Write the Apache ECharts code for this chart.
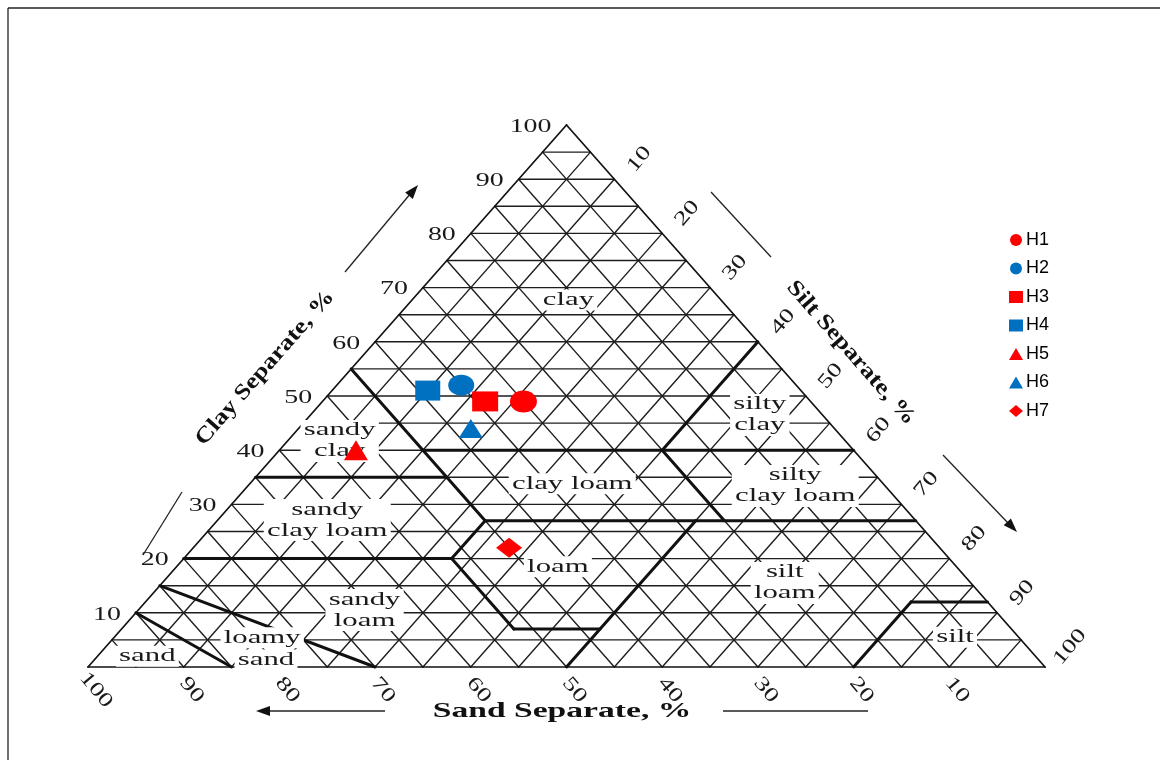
<!DOCTYPE html>
<html>
<head>
<meta charset="utf-8">
<title>Soil texture triangle</title>
<script src="https://cdn.jsdelivr.net/npm/echarts@6/dist/echarts.min.js"></script>
<style>
    html, body { margin: 0; padding: 0; background: #fff; }
    #chart { width: 1160px; height: 760px; }
</style>
</head>
<body>
<div id="chart"></div>
<script>
// 样本点 (sand, silt, clay, %)
const sampleNames = ['H1', 'H2', 'H3', 'H4', 'H5', 'H6', 'H7'];
const sampleSand = [30, 35, 34, 39, 52, 38, 45];
const sampleSilt = [21, 13, 17, 10, 8, 18, 33];
const sampleClay = [49, 52, 49, 51, 40, 44, 22];

// 刻度
const tickValues = [10, 20, 30, 40, 50, 60, 70, 80, 90, 100];
const gridStep = 5;

// 质地分区边界 (sand, silt, clay)
const classBoundaries = [
    [[45, 0, 55], [45, 15, 40], [45, 28, 27], [52, 28, 20], [52, 41, 7], [43, 50, 7]],
    [[65, 0, 35], [45, 20, 35]],
    [[45, 15, 40], [0, 60, 40]],
    [[20, 40, 40], [0, 40, 60]],
    [[20, 40, 40], [20, 53, 27]],
    [[45, 28, 27], [0, 73, 27]],
    [[80, 0, 20], [52, 28, 20]],
    [[23, 50, 27], [50, 50, 0]],
    [[20, 80, 0], [8, 80, 12], [0, 88, 12]],
    [[85, 0, 15], [70, 30, 0]],
    [[90, 0, 10], [85, 15, 0]]
];

// 分区名称
const classNames = ['clay', 'silty\nclay', 'sandy\nclay', 'clay loam', 'silty\nclay loam',
    'sandy\nclay loam', 'loam', 'silt\nloam', 'sandy\nloam', 'loamy', 'sand', 'sand', 'silt'];
const classNameX = [50.2, 70.2, 26.3, 50.6, 73.9, 25.0, 49.1, 72.8, 28.9, 18.2, 6.2, 18.6, 90.6];
const classNameY = [67.7, 46.5, 41.7, 33.8, 33.4, 27.1, 18.5, 15.5, 10.5, 5.4, 2.0, 1.3, 5.5];

// 三元坐标 -> 直角坐标
function toXY(sand, silt, clay) {
    return [silt + clay / 2, clay];
}

function gridSegments() {
    const segs = [];
    for (let k = gridStep; k < 100; k += gridStep) {
        segs.push(toXY(100 - k, 0, k).concat(toXY(0, 100 - k, k)));
        segs.push(toXY(k, 0, 100 - k).concat(toXY(k, 100 - k, 0)));
        segs.push(toXY(0, k, 100 - k).concat(toXY(100 - k, k, 0)));
    }
    return segs;
}

function edgeSegments() {
    return [
        toXY(100, 0, 0).concat(toXY(0, 100, 0)),
        toXY(100, 0, 0).concat(toXY(0, 0, 100)),
        toXY(0, 100, 0).concat(toXY(0, 0, 100))
    ];
}

function boundarySegments() {
    const segs = [];
    classBoundaries.forEach(function (line) {
        for (let i = 0; i < line.length - 1; i++) {
            segs.push(toXY.apply(null, line[i]).concat(toXY.apply(null, line[i + 1])));
        }
    });
    return segs;
}

function segmentRenderer(stroke, width) {
    return function (params, api) {
        const p1 = api.coord([api.value(0), api.value(1)]);
        const p2 = api.coord([api.value(2), api.value(3)]);
        return {
            type: 'line',
            shape: { x1: p1[0], y1: p1[1], x2: p2[0], y2: p2[1] },
            style: { stroke: stroke, lineWidth: width, lineCap: 'round' }
        };
    };
}

const serifFont = '"Liberation Serif", "DejaVu Serif", serif';

function renderClassName(params, api) {
    const p = api.coord([api.value(0), api.value(1)]);
    return {
        type: 'text',
        x: p[0],
        y: p[1],
        scaleX: 1.62,
        style: {
            text: classNames[api.value(2)],
            font: '19px ' + serifFont,
            fill: '#1a1a1a',
            align: 'center',
            verticalAlign: 'middle',
            lineHeight: 21,
            backgroundColor: '#fff',
            padding: [0, 2]
        }
    };
}

function tickRenderer(dx, dy, rotation, align, scaleX, size) {
    return function (params, api) {
        const p = api.coord([api.value(0), api.value(1)]);
        return {
            type: 'text',
            x: p[0] + dx,
            y: p[1] + dy,
            rotation: rotation,
            scaleX: scaleX,
            style: {
                text: String(api.value(2)),
                font: size + 'px ' + serifFont,
                fill: '#1a1a1a',
                align: align,
                verticalAlign: 'middle'
            }
        };
    };
}

// 箭头
function arrowHead(x1, y1, x2, y2) {
    const len = Math.hypot(x2 - x1, y2 - y1);
    const ux = (x2 - x1) / len, uy = (y2 - y1) / len;
    const bx = x2 - ux * 14, by = y2 - uy * 14;
    return {
        type: 'polygon',
        shape: { points: [[x2, y2], [bx - uy * 5, by + ux * 5], [bx + uy * 5, by - ux * 5]] },
        style: { fill: '#111' }
    };
}

function plainLine(x1, y1, x2, y2) {
    return { type: 'line', shape: { x1: x1, y1: y1, x2: x2, y2: y2 }, style: { stroke: '#222', lineWidth: 1.3 } };
}

const sampleStyles = [
    { symbol: 'circle', color: '#ff0000', size: [27, 22] },
    { symbol: 'circle', color: '#0070c0', size: [26, 21] },
    { symbol: 'rect', color: '#ff0000', size: [26, 20] },
    { symbol: 'rect', color: '#0070c0', size: [25, 20] },
    { symbol: 'triangle', color: '#ff0000', size: [24, 20] },
    { symbol: 'triangle', color: '#0070c0', size: [24, 19] },
    { symbol: 'diamond', color: '#ff0000', size: [26, 20] }
];

function buildSeries() {
    const series = [
        { type: 'custom', name: 'grid', z: 1, silent: true, clip: false,
          renderItem: segmentRenderer('#1e1e1e', 1.4), data: gridSegments() },
        { type: 'custom', name: 'edge', z: 2, silent: true, clip: false,
          renderItem: segmentRenderer('#111', 1.7), data: edgeSegments() },
        { type: 'custom', name: 'boundary', z: 2, silent: true, clip: false,
          renderItem: segmentRenderer('#111', 3), data: boundarySegments() },
        { type: 'custom', name: 'classes', z: 3, silent: true, clip: false,
          renderItem: renderClassName,
          data: classNames.map(function (n, i) { return [classNameX[i], classNameY[i], i]; }) },
        { type: 'custom', name: 'clayTicks', z: 3, silent: true, clip: false,
          renderItem: tickRenderer(-15, 2, 0, 'right', 1.55, 18),
          data: tickValues.map(function (c) { return toXY(100 - c, 0, c).concat([c]); }) },
        { type: 'custom', name: 'sandTicks', z: 3, silent: true, clip: false,
          renderItem: tickRenderer(8, 23, -0.87, 'center', 1.35, 20),
          data: tickValues.map(function (s) { return toXY(s, 100 - s, 0).concat([s]); }) },
        { type: 'custom', name: 'siltTicks', z: 3, silent: true, clip: false,
          renderItem: tickRenderer(25, -20, 0.87, 'center', 1.35, 20),
          data: tickValues.map(function (s) { return toXY(0, s, 100 - s).concat([s]); }) }
    ];
    sampleNames.forEach(function (name, i) {
        const st = sampleStyles[i];
        series.push({
            type: 'scatter',
            name: name,
            z: 5,
            symbol: st.symbol,
            symbolSize: st.size,
            itemStyle: { color: st.color, opacity: 1 },
            data: [toXY(sampleSand[i], sampleSilt[i], sampleClay[i])]
        });
    });
    return series;
}

function initializeChart() {
    const chart = echarts.init(document.getElementById('chart'), null, { renderer: 'canvas' });
    const titleStyle = { font: 'bold 22px ' + serifFont, fill: '#111', align: 'center', verticalAlign: 'middle' };
    chart.setOption({
        animation: false,
        backgroundColor: '#fff',
        grid: { left: 88, right: 115, top: 125, bottom: 93 },
        xAxis: { type: 'value', min: 0, max: 100, show: false },
        yAxis: { type: 'value', min: 0, max: 100, show: false },
        legend: {
            data: sampleNames,
            orient: 'vertical',
            left: 1004,
            top: 226,
            itemWidth: 14,
            itemHeight: 12,
            itemGap: 10.5,
            textStyle: { fontFamily: '"Liberation Sans", Arial, sans-serif', fontSize: 18, color: '#000', padding: [0, 0, 0, -2] }
        },
        graphic: [
            plainLine(8, 8, 1160, 8),
            plainLine(8, 8, 8, 760),
            { type: 'text', x: 562, y: 712, scaleX: 1.6, style: Object.assign({ text: 'Sand Separate, %' }, titleStyle, { font: 'bold 21px ' + serifFont }) },
            { type: 'text', x: 265, y: 368, rotation: 0.85, scaleX: 1.2, style: Object.assign({ text: 'Clay Separate, %' }, titleStyle) },
            { type: 'text', x: 851, y: 353, rotation: -0.85, scaleX: 1.2, style: Object.assign({ text: 'Silt Separate, %' }, titleStyle) },
            plainLine(385, 711, 266, 711),
            arrowHead(385, 711, 256, 711),
            plainLine(723, 711, 868, 711),
            plainLine(345, 272, 411, 193),
            arrowHead(345, 272, 418, 185),
            plainLine(143, 555, 182, 492),
            plainLine(711, 192, 771, 257),
            plainLine(943, 455, 1008, 523),
            arrowHead(943, 455, 1017, 532)
        ],
        series: buildSeries()
    });
    window.soilChart = chart;
}

document.addEventListener('DOMContentLoaded', initializeChart);
</script>
</body>
</html>
